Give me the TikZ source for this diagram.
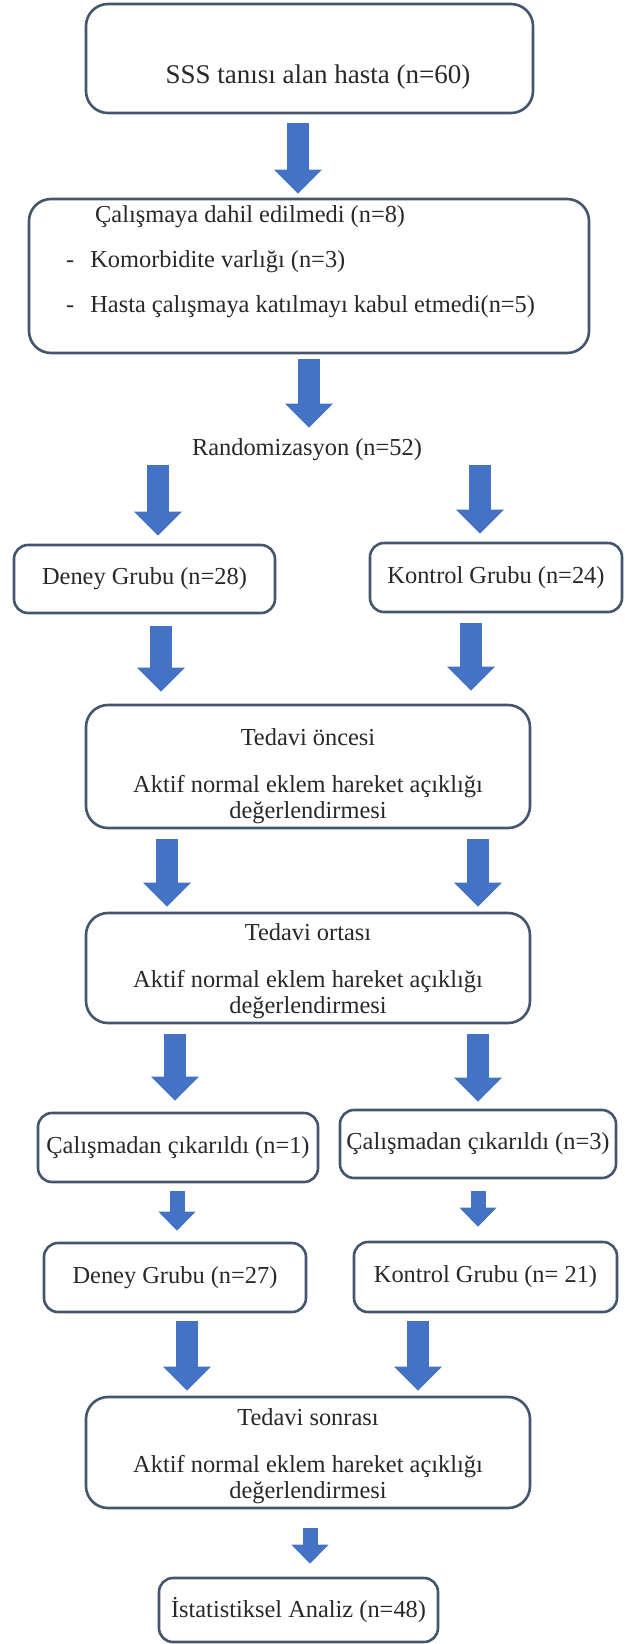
\documentclass[tikz,border=0pt]{standalone}
\usepackage{fontspec}
\setmainfont{Liberation Serif}
\usepackage{xcolor}
\usetikzlibrary{positioning,arrows.meta}

\definecolor{boxedge}{RGB}{68,86,110}
\definecolor{flowblue}{RGB}{68,114,196}
\definecolor{inktext}{RGB}{40,40,40}

\begin{document}
\begin{tikzpicture}[
    x=1pt, y=-1pt,
    stagebox/.style={rectangle, draw=boxedge, line width=2.6pt, rounded corners=22pt, fill=white, inner sep=0pt, align=center, text=inktext, font=\fontsize{24.4}{26}\selectfont},
    groupbox/.style={stagebox, rounded corners=14pt},
    plaintext/.style={inner sep=0pt, text=inktext, font=\fontsize{24.4}{26}\selectfont},
    bigarrow/.style={draw=flowblue, line width=22pt, -{Triangle[width=48pt, length=24pt, line width=0pt]}},
    smallarrow/.style={draw=flowblue, line width=15pt, -{Triangle[width=37pt, length=19pt, line width=0pt]}},
]
\fill[white] (0,0) rectangle (624,1644);
\useasboundingbox (0,0) rectangle (624,1644);

% === TOP: screening ===
\node[stagebox, minimum width=447pt, minimum height=109pt] (screen) at (309.5,58.5) {};
\node[plaintext, font=\fontsize{27}{30}\selectfont] (screentext) at (318,77) {SSS tanısı alan hasta (n=60)};

\node[stagebox, minimum width=560pt, minimum height=154pt] (excluded) at (309,276) {};
\node[plaintext, align=left, anchor=west] (excludedtext) at (66,262)
    {\hspace*{29pt}Çalışmaya dahil edilmedi (n=8)\\[19pt]
     -\hspace*{16pt}Komorbidite varlığı (n=3)\\[19pt]
     -\hspace*{16pt}Hasta çalışmaya katılmayı kabul etmedi(n=5)};

\node[plaintext] (random) at (307,450) {Randomizasyon (n=52)};

% === GROUPS ===
\node[groupbox, minimum width=261pt, minimum height=68pt] (deneyA) at (144.5,579) {Deney Grubu (n=28)};
\node[groupbox, minimum width=252pt, minimum height=69pt] (kontrolA) at (496,577.5) {Kontrol Grubu (n=24)};

% === ASSESSMENTS ===
\node[stagebox, minimum width=444pt, minimum height=123pt] (pre) at (308,766.5)
    {\rule{0pt}{37pt}Tedavi öncesi\\[21pt]Aktif normal eklem hareket açıklığı\\değerlendirmesi};
\node[stagebox, minimum width=444pt, minimum height=110pt] (mid) at (308,968)
    {\rule{0pt}{24pt}Tedavi ortası\\[21pt]Aktif normal eklem hareket açıklığı\\değerlendirmesi};

\node[groupbox, minimum width=280pt, minimum height=69pt] (dropA) at (178,1147.5) {Çalışmadan çıkarıldı (n=1)};
\node[groupbox, minimum width=276pt, minimum height=68pt] (dropB) at (478,1144) {Çalışmadan çıkarıldı (n=3)};

\node[groupbox, minimum width=262pt, minimum height=69pt] (deneyB) at (175,1277.5) {Deney Grubu (n=27)};
\node[groupbox, minimum width=263pt, minimum height=70pt] (kontrolB) at (485.5,1277) {Kontrol Grubu (n= 21)};

\node[stagebox, minimum width=444pt, minimum height=111pt] (post) at (308,1452.5)
    {\rule{0pt}{24pt}Tedavi sonrası\\[21pt]Aktif normal eklem hareket açıklığı\\değerlendirmesi};

\node[groupbox, minimum width=279pt, minimum height=64pt] (stats) at (298.5,1610) {İstatistiksel Analiz (n=48)};

% === ARROWS ===
\draw[bigarrow, shorten <=9pt, shorten >=4pt] (screen.south -| 298,0) -- (excluded.north -| 298,0);
\draw[bigarrow, shorten <=5pt, shorten >=11pt] (excluded.south -| 309,0) -- (random.north -| 309,0);

\draw[bigarrow, shorten <=4pt, shorten >=8pt] (random.south -| 158,0) -- (deneyA.north -| 158,0);
\draw[bigarrow, shorten <=4pt, shorten >=8pt] (random.south -| 480,0) -- (kontrolA.north -| 480,0);

\draw[bigarrow, shorten <=12pt, shorten >=12pt] (deneyA.south -| 161,0) -- (pre.north -| 161,0);
\draw[bigarrow, shorten <=10pt, shorten >=13pt] (kontrolA.south -| 471,0) -- (pre.north -| 471,0);

\draw[bigarrow, shorten <=10pt, shorten >=5pt] (pre.south -| 167,0) -- (mid.north -| 167,0);
\draw[bigarrow, shorten <=10pt, shorten >=5pt] (pre.south -| 478,0) -- (mid.north -| 478,0);

\draw[bigarrow, shorten <=10pt, shorten >=11pt] (mid.south -| 175,0) -- (dropA.north -| 175,0);
\draw[bigarrow, shorten <=10pt, shorten >=7pt] (mid.south -| 478,0) -- (dropB.north -| 478,0);

\draw[smallarrow, shorten <=8pt, shorten >=11pt] (dropA.south -| 177,0) -- (deneyB.north -| 177,0);
\draw[smallarrow, shorten <=12pt, shorten >=14pt] (dropB.south -| 478,0) -- (kontrolB.north -| 478,0);

\draw[bigarrow, shorten <=8pt, shorten >=5pt] (deneyB.south -| 187,0) -- (post.north -| 187,0);
\draw[bigarrow, shorten <=8pt, shorten >=5pt] (kontrolB.south -| 418,0) -- (post.north -| 418,0);

\draw[smallarrow, shorten <=19pt, shorten >=13pt] (post.south -| 310,0) -- (stats.north -| 310,0);

\end{tikzpicture}
\end{document}
